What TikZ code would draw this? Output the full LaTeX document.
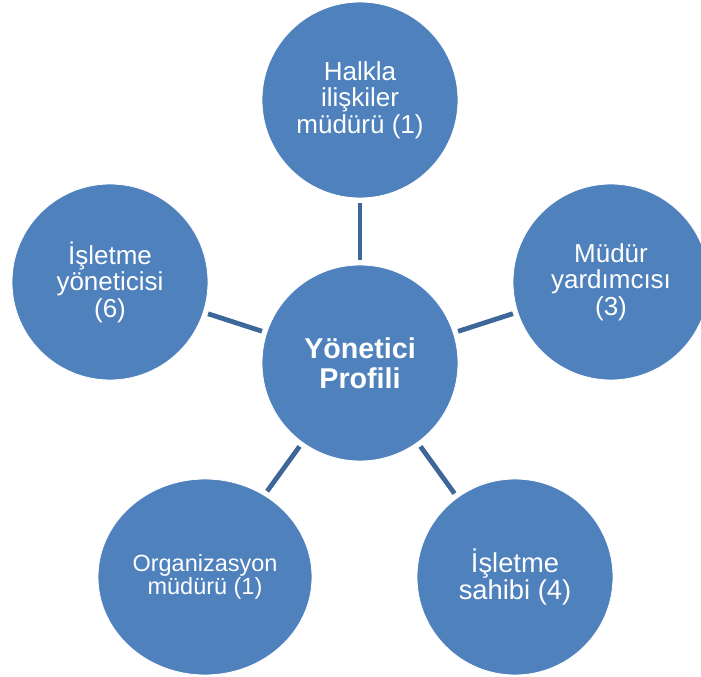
\documentclass[tikz,border=0pt]{standalone}
\usepackage{fontspec}
\setmainfont{Liberation Sans}
\usetikzlibrary{shapes.geometric}
\definecolor{c1}{HTML}{4F81BD}
\definecolor{linkcolor}{HTML}{3E6799}
\newcommand{\dia}{147pt}

\begin{document}
\begin{tikzpicture}[
    x=0.75pt, y=-0.75pt,
    every node/.style={text=white, align=center},
    bubble/.style={circle, fill=c1, draw=white, line width=0.6pt,
                   minimum size=\dia, inner sep=0pt,
                   font=\fontsize{19.5pt}{19.9pt}\selectfont},
    wide/.style={ellipse, fill=c1, draw=white, line width=0.6pt,
                 minimum width=160.5pt, minimum height=\dia, inner sep=0pt,
                 font=\fontsize{17.6pt}{16.1pt}\selectfont},
    hub/.style={bubble, font=\bfseries\fontsize{21.5pt}{22.5pt}\selectfont},
    link/.style={draw=linkcolor, line width=3.6pt,
                 shorten <=3.5pt, shorten >=3.5pt},
]
\clip (0,0) rectangle (701,677);
\useasboundingbox (0,0) rectangle (701,677);

% ---------------------------------------------------------------- the circles
\node[hub] (profil) at (360,363) {Yönetici\\Profili};
\node[bubble] (halkla) at (360,100) {Halkla\\ilişkiler\\müdürü (1)};
\node[bubble] (yardimci) at (611,282) {Müdür\\yardımcısı\\(3)};
\node[bubble] (yonetici) at (110,282) {İşletme\\yöneticisi\\(6)};
\node[wide] (organ) at (205,577) {Organizasyon\\müdürü (1)};
\node[bubble, font=\fontsize{20.5pt}{20pt}\selectfont] (sahip) at (515,577)
    {İşletme\\sahibi (4)};

% ---------------------------------------------------------------- the links
\foreach \n in {halkla, yardimci, sahip, organ, yonetici} {
    \draw[link] (profil) -- (\n);
}

\end{tikzpicture}
\end{document}
